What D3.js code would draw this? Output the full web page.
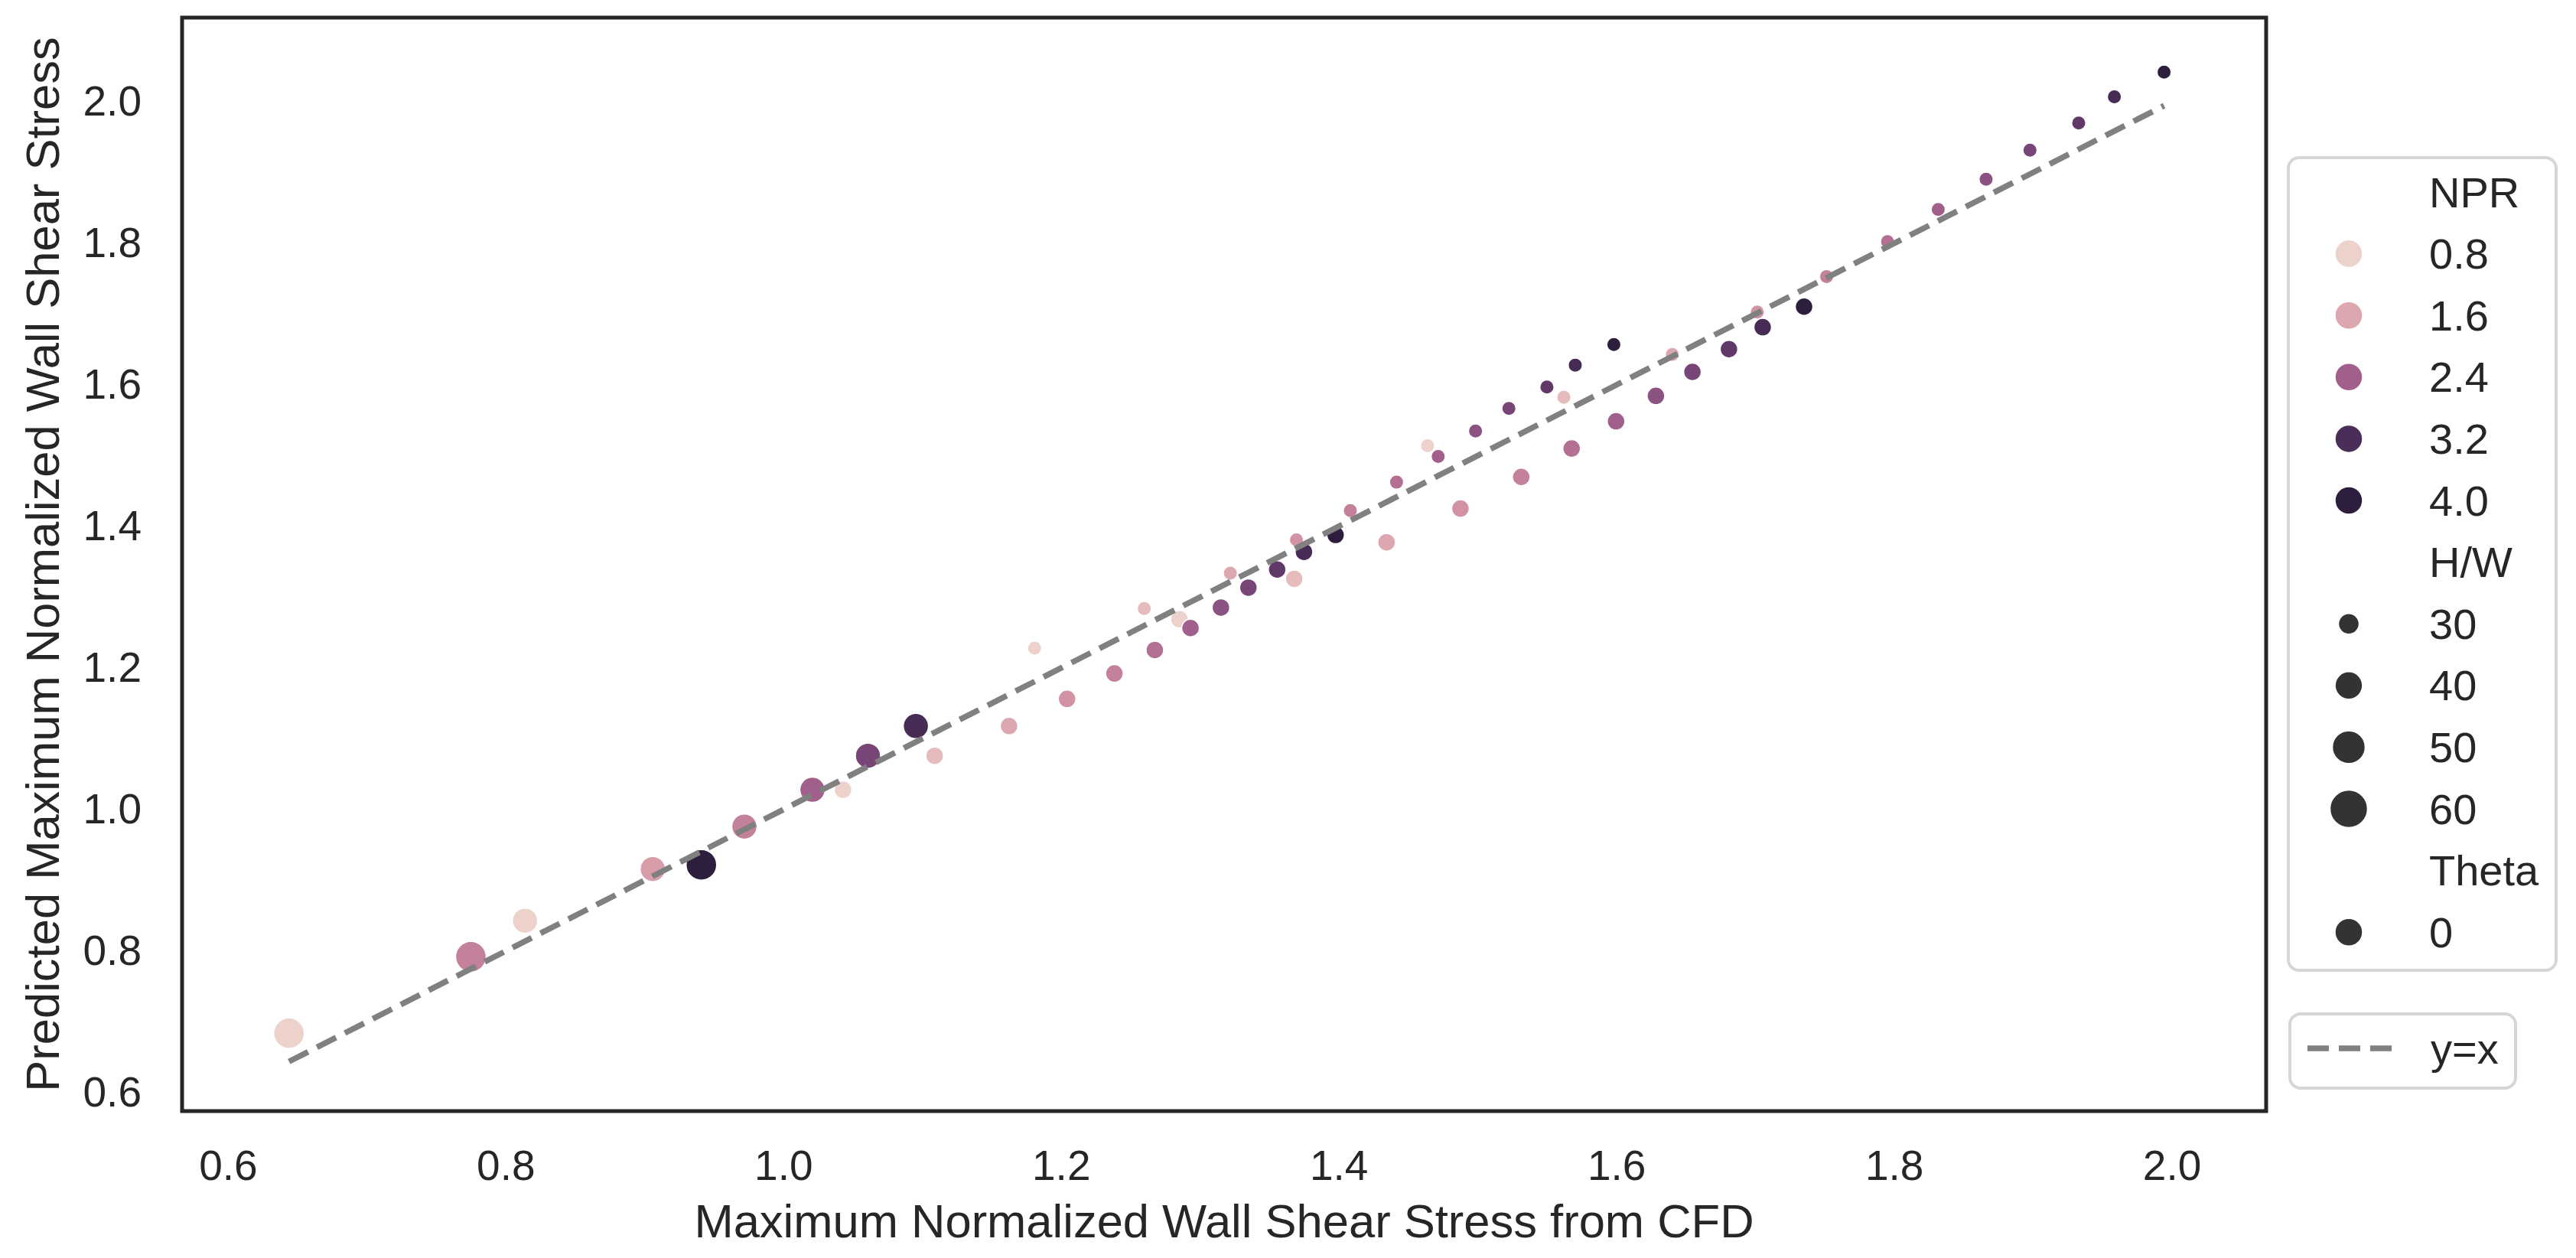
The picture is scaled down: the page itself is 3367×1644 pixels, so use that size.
<!DOCTYPE html>
<html>
<head>
<meta charset="utf-8">
<script src="https://cdnjs.cloudflare.com/ajax/libs/d3/7.8.5/d3.min.js"></script>
<style>
    body { margin: 0; background: #fff; }
    text { font-family: "Liberation Sans", Arial, sans-serif; fill: #262626; }
</style>
</head>
<body>
<div id="graph"></div>
<script>
// One entry per point
var cfdWss = [
    1.181, 1.26, 1.322, 1.3696, 1.4084, 1.4417, 1.4717, 1.4986, 1.5226, 1.55, 1.5704, 1.5982,
    1.464, 1.5622, 1.6403, 1.7015, 1.7514, 1.7953, 1.8318, 1.8663, 1.8979, 1.933, 1.9587, 1.9945,
    1.2853, 1.368, 1.4345, 1.4877, 1.5315, 1.5678, 1.5998, 1.6285, 1.6548, 1.6811, 1.7054, 1.7352,
    1.043, 1.109, 1.1626, 1.2044, 1.2385, 1.2676, 1.2933, 1.3152, 1.335, 1.3557, 1.375, 1.3978,
    0.814, 0.906, 0.972, 1.021, 1.061, 1.0955,
    0.644, 0.775, 0.941
];
var predictedWss = [
    1.228, 1.284, 1.334, 1.381, 1.4225, 1.4626, 1.499, 1.535, 1.5668, 1.597, 1.628, 1.657,
    1.514, 1.5826, 1.6431, 1.7031, 1.7529, 1.8025, 1.848, 1.8906, 1.9316, 1.97, 2.007, 2.042,
    1.269, 1.326, 1.3777, 1.4253, 1.47, 1.5102, 1.5486, 1.5846, 1.6184, 1.6506, 1.6816, 1.7106,
    1.028, 1.076, 1.118, 1.1564, 1.1924, 1.2255, 1.2565, 1.2855, 1.3136, 1.3392, 1.3641, 1.388,
    0.843, 0.916, 0.976, 1.028, 1.076, 1.118,
    0.684, 0.792, 0.922
];
var npr = [
    0.8, 1.2, 1.6, 1.8, 2.0, 2.2, 2.4, 2.6, 2.8, 3.0, 3.3, 4.0,
    0.8, 1.2, 1.6, 1.8, 2.0, 2.2, 2.4, 2.6, 2.8, 3.0, 3.3, 4.0,
    0.8, 1.2, 1.6, 1.8, 2.0, 2.2, 2.4, 2.6, 2.8, 3.0, 3.3, 4.0,
    0.8, 1.2, 1.6, 1.8, 2.0, 2.2, 2.4, 2.6, 2.8, 3.0, 3.3, 4.0,
    0.8, 1.7, 2.0, 2.4, 2.8, 3.3,
    0.8, 2.0, 4.0
];
var hw = [
    30, 30, 30, 30, 30, 30, 30, 30, 30, 30, 30, 30,
    30, 30, 30, 30, 30, 30, 30, 30, 30, 30, 30, 30,
    40, 40, 40, 40, 40, 40, 40, 40, 40, 40, 40, 40,
    40, 40, 40, 40, 40, 40, 40, 40, 40, 40, 40, 40,
    50, 50, 50, 50, 50, 50,
    60, 60, 60
];

var xTicks = [0.6, 0.8, 1.0, 1.2, 1.4, 1.6, 1.8, 2.0];
var yTicks = [0.6, 0.8, 1.0, 1.2, 1.4, 1.6, 1.8, 2.0];
var nprLegend = [0.8, 1.6, 2.4, 3.2, 4.0];
var hwLegend = [30, 40, 50, 60];
var thetaLegend = [0];

var svgWidth = 3367;
var svgHeight = 1644;
var plotLeft = 238, plotRight = 2962, plotTop = 23, plotBottom = 1452;

// seaborn's default cubehelix ramp (light=.85, dark=.15, rot=.4)
function cubehelixRamp(t) {
    var x = 0.85 + (0.15 - 0.85) * t;
    var a = 0.8 * x * (1 - x) / 2;
    var phi = 2 * Math.PI * (0.4 * x);
    var c = Math.cos(phi), s = Math.sin(phi);
    function ch(p0, p1) {
        return 255 * Math.max(0, Math.min(1, x + a * (p0 * c + p1 * s)));
    }
    return d3.rgb(ch(-0.14861, 1.78277), ch(-0.29227, -0.90649), ch(1.97294, 0)).formatHex();
}

var points = cfdWss.map(function (v, i) {
    return {x: v, y: predictedWss[i], npr: npr[i], hw: hw[i]};
});

var x = d3.scaleLinear().domain([0.567, 2.068]).range([plotLeft, plotRight]);
var y = d3.scaleLinear().domain([0.574, 2.119]).range([plotBottom, plotTop]);
// position along the ramp, tuned so the legend swatches match the picture
var rampPos = d3.scaleLinear().domain(nprLegend).range([0, 0.186, 0.543, 0.886, 1]).clamp(true);
function color(v) { return cubehelixRamp(rampPos(v)); }
// marker diameter on the plot and in the legend
var plotSize = d3.scaleLinear().domain([30, 40, 50, 60]).range([18.5, 23, 33, 40]);
var legendArea = d3.scaleLinear().domain([30, 60]).range([729, 2401]);

var svg = d3.select('#graph').append('svg')
    .attr('width', svgWidth).attr('height', svgHeight)
    .style('display', 'block');

svg.append('rect').attr('width', svgWidth).attr('height', svgHeight).attr('fill', '#fff');

// axes, no tick marks (seaborn white style)
var xAxis = svg.append('g')
    .attr('transform', 'translate(0,' + plotBottom + ')')
    .call(d3.axisBottom(x).tickValues(xTicks).tickFormat(d3.format('.1f')).tickSize(0).tickPadding(51));
var yAxis = svg.append('g')
    .attr('transform', 'translate(' + plotLeft + ',0)')
    .call(d3.axisLeft(y).tickValues(yTicks).tickFormat(d3.format('.1f')).tickSize(0).tickPadding(53));
[xAxis, yAxis].forEach(function (g) {
    g.select('.domain').remove();
    g.selectAll('text').style('font-size', '55px').attr('fill', '#262626')
        .style('font-family', '"Liberation Sans", Arial, sans-serif');
});

// scatter points
svg.append('g').selectAll('circle')
    .data(points)
    .enter()
    .append('circle')
    .attr('cx', function (d) { return x(d.x); })
    .attr('cy', function (d) { return y(d.y); })
    .attr('r', function (d) { return plotSize(d.hw) / 2; })
    .attr('fill', function (d) { return color(d.npr); })
    .attr('stroke', '#fff')
    .attr('stroke-width', 1.5);

// y = x reference line over the data range
var lo = d3.min(cfdWss), hi = d3.max(cfdWss);
svg.append('line')
    .attr('x1', x(lo)).attr('y1', y(lo))
    .attr('x2', x(hi)).attr('y2', y(hi))
    .attr('stroke', '#808080')
    .attr('stroke-width', 7.5)
    .attr('stroke-dasharray', '28,13');

// frame
svg.append('rect')
    .attr('x', plotLeft).attr('y', plotTop)
    .attr('width', plotRight - plotLeft).attr('height', plotBottom - plotTop)
    .attr('fill', 'none').attr('stroke', '#262626').attr('stroke-width', 5);

// axis labels
svg.append('text')
    .attr('x', (plotLeft + plotRight) / 2).attr('y', 1617)
    .attr('text-anchor', 'middle')
    .style('font-size', '61.5px')
    .text('Maximum Normalized Wall Shear Stress from CFD');
svg.append('text')
    .attr('transform', 'translate(77,' + (plotTop + plotBottom) / 2 + ') rotate(-90)')
    .attr('text-anchor', 'middle')
    .style('font-size', '61.5px')
    .text('Predicted Maximum Normalized Wall Shear Stress');

// legend 1: hue, size, theta
var legendRows = [];
legendRows.push({label: 'NPR'});
nprLegend.forEach(function (v) { legendRows.push({label: v.toFixed(1), fill: color(v), d: 36}); });
legendRows.push({label: 'H/W'});
hwLegend.forEach(function (v) { legendRows.push({label: String(v), fill: '#333333', d: Math.sqrt(legendArea(v))}); });
legendRows.push({label: 'Theta'});
thetaLegend.forEach(function (v) { legendRows.push({label: String(v), fill: '#333333', d: 36}); });

var legend = svg.append('g');
legend.append('rect')
    .attr('x', 2991).attr('y', 206).attr('width', 350).attr('height', 1062)
    .attr('rx', 14).attr('fill', '#fff').attr('stroke', '#d6d6d6').attr('stroke-width', 4);

var rowY = d3.scaleLinear().domain([0, 1]).range([251, 331.6]);
var rows = legend.selectAll('g.row').data(legendRows).enter().append('g')
    .attr('class', 'row')
    .attr('transform', function (d, i) { return 'translate(0,' + rowY(i) + ')'; });
rows.filter(function (d) { return d.fill; }).append('circle')
    .attr('cx', 3070).attr('cy', 0)
    .attr('r', function (d) { return d.d / 2; })
    .attr('fill', function (d) { return d.fill; })
    .attr('stroke', '#fff').attr('stroke-width', 1.5);
rows.append('text')
    .attr('x', 3175).attr('dy', '0.35em')
    .style('font-size', '56px')
    .text(function (d) { return d.label; });

// legend 2: reference line
var legend2 = svg.append('g');
legend2.append('rect')
    .attr('x', 2993).attr('y', 1325).attr('width', 295).attr('height', 97)
    .attr('rx', 14).attr('fill', '#fff').attr('stroke', '#d6d6d6').attr('stroke-width', 4);
legend2.append('line')
    .attr('x1', 3016).attr('x2', 3127).attr('y1', 1370).attr('y2', 1370)
    .attr('stroke', '#808080').attr('stroke-width', 7.5).attr('stroke-dasharray', '28,13');
legend2.append('text')
    .attr('x', 3177).attr('y', 1370).attr('dy', '0.35em')
    .style('font-size', '56px')
    .text('y=x');
</script>
</body>
</html>
